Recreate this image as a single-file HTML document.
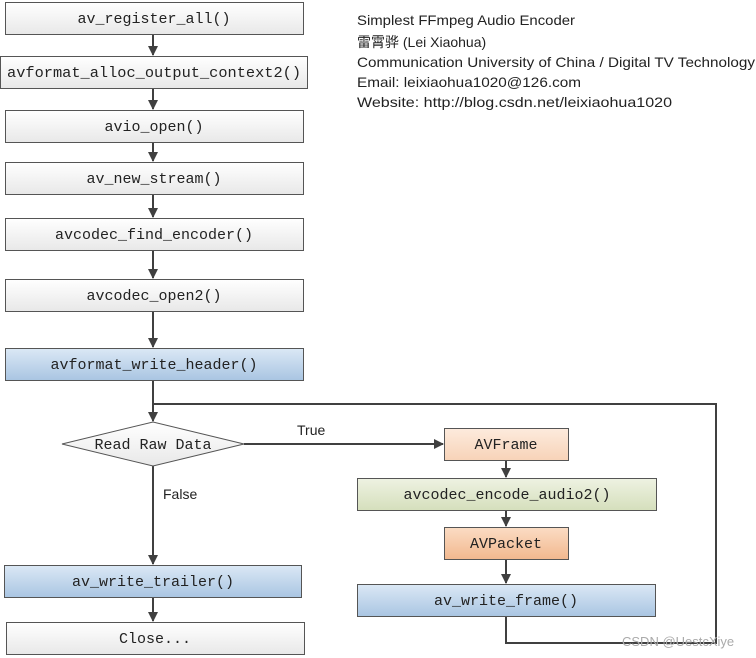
<!DOCTYPE html>
<html><head><meta charset="utf-8"><style>
html,body{margin:0;padding:0;background:#fff;width:756px;height:658px;overflow:hidden}
</style></head><body>
<svg width="756" height="658" viewBox="0 0 756 658" xmlns="http://www.w3.org/2000/svg">
<defs>
<linearGradient id="w" x1="0" y1="0" x2="0" y2="1"><stop offset="0" stop-color="#ffffff"/><stop offset="1" stop-color="#e8e8e8"/></linearGradient>
<linearGradient id="b" x1="0" y1="0" x2="0" y2="1"><stop offset="0" stop-color="#dbe8f5"/><stop offset="1" stop-color="#a9c5e2"/></linearGradient>
<linearGradient id="o1" x1="0" y1="0" x2="0" y2="1"><stop offset="0" stop-color="#fdebdd"/><stop offset="1" stop-color="#f7d3b8"/></linearGradient>
<linearGradient id="o2" x1="0" y1="0" x2="0" y2="1"><stop offset="0" stop-color="#fbdcc4"/><stop offset="1" stop-color="#f2b88e"/></linearGradient>
<linearGradient id="g" x1="0" y1="0" x2="0" y2="1"><stop offset="0" stop-color="#eef2e2"/><stop offset="1" stop-color="#d5dfbc"/></linearGradient>
<marker id="a" markerWidth="10" markerHeight="10" refX="9" refY="5" orient="auto" markerUnits="userSpaceOnUse"><path d="M0,0 L10,5 L0,10 z" fill="#404040"/></marker>
</defs>
<g stroke="#404040" stroke-width="2" fill="none">
<line x1="153" y1="34" x2="153" y2="55" marker-end="url(#a)"/>
<line x1="153" y1="88" x2="153" y2="109" marker-end="url(#a)"/>
<line x1="153" y1="142" x2="153" y2="161" marker-end="url(#a)"/>
<line x1="153" y1="194" x2="153" y2="217" marker-end="url(#a)"/>
<line x1="153" y1="251" x2="153" y2="278" marker-end="url(#a)"/>
<line x1="153" y1="312" x2="153" y2="347" marker-end="url(#a)"/>
<line x1="153" y1="381" x2="153" y2="421" marker-end="url(#a)"/>
<polyline points="506,617 506,643 716,643 716,404 153,404"/>
<line x1="244" y1="444" x2="443" y2="444" marker-end="url(#a)"/>
<line x1="153" y1="466" x2="153" y2="564" marker-end="url(#a)"/>
<line x1="153" y1="598" x2="153" y2="621" marker-end="url(#a)"/>
<line x1="506" y1="461" x2="506" y2="477" marker-end="url(#a)"/>
<line x1="506" y1="511" x2="506" y2="526" marker-end="url(#a)"/>
<line x1="506" y1="560" x2="506" y2="583" marker-end="url(#a)"/>
</g>
<g stroke="#555" stroke-width="1">
<rect x="5.5" y="2.5" width="298" height="32" fill="url(#w)"/>
<rect x="0.5" y="56.5" width="307" height="32" fill="url(#w)"/>
<rect x="5.5" y="110.5" width="298" height="32" fill="url(#w)"/>
<rect x="5.5" y="162.5" width="298" height="32" fill="url(#w)"/>
<rect x="5.5" y="218.5" width="298" height="32" fill="url(#w)"/>
<rect x="5.5" y="279.5" width="298" height="32" fill="url(#w)"/>
<rect x="5.5" y="348.5" width="298" height="32" fill="url(#b)"/>
<polygon points="62,444 153,422 244,444 153,466" fill="url(#w)"/>
<rect x="4.5" y="565.5" width="297" height="32" fill="url(#b)"/>
<rect x="6.5" y="622.5" width="298" height="32" fill="url(#w)"/>
<rect x="444.5" y="428.5" width="124" height="32" fill="url(#o1)"/>
<rect x="357.5" y="478.5" width="299" height="32" fill="url(#g)"/>
<rect x="444.5" y="527.5" width="124" height="32" fill="url(#o2)"/>
<rect x="357.5" y="584.5" width="298" height="32" fill="url(#b)"/>
</g>
<g font-family="'Liberation Mono', monospace" font-size="15" fill="#222" text-anchor="middle">
<text x="154" y="23">av_register_all()</text>
<text x="154" y="77" textLength="294" lengthAdjust="spacingAndGlyphs">avformat_alloc_output_context2()</text>
<text x="154" y="131">avio_open()</text>
<text x="154" y="183">av_new_stream()</text>
<text x="154" y="239">avcodec_find_encoder()</text>
<text x="154" y="300">avcodec_open2()</text>
<text x="154" y="369">avformat_write_header()</text>
<text x="153" y="449">Read Raw Data</text>
<text x="153" y="586">av_write_trailer()</text>
<text x="155" y="643">Close...</text>
<text x="506" y="449">AVFrame</text>
<text x="507" y="499">avcodec_encode_audio2()</text>
<text x="506" y="548">AVPacket</text>
<text x="506" y="605">av_write_frame()</text>
</g>
<g font-family="'Liberation Sans', 'Noto Sans CJK SC', sans-serif" font-size="14" fill="#222">
<text x="297" y="435">True</text>
<text x="163" y="499">False</text>
<text x="357" y="25" textLength="218" lengthAdjust="spacingAndGlyphs">Simplest FFmpeg Audio Encoder</text>
<text x="357" y="47">雷霄骅 (Lei Xiaohua)</text>
<text x="357" y="67" textLength="398" lengthAdjust="spacingAndGlyphs">Communication University of China / Digital TV Technology</text>
<text x="357" y="87" textLength="224" lengthAdjust="spacingAndGlyphs">Email:  leixiaohua1020@126.com</text>
<text x="357" y="107" textLength="315" lengthAdjust="spacingAndGlyphs">Website:  http://blog.csdn.net/leixiaohua1020</text>
<text x="622" y="646" fill="#aaa" font-size="13">CSDN @UestcXiye</text>
</g>
</svg>
</body></html>
